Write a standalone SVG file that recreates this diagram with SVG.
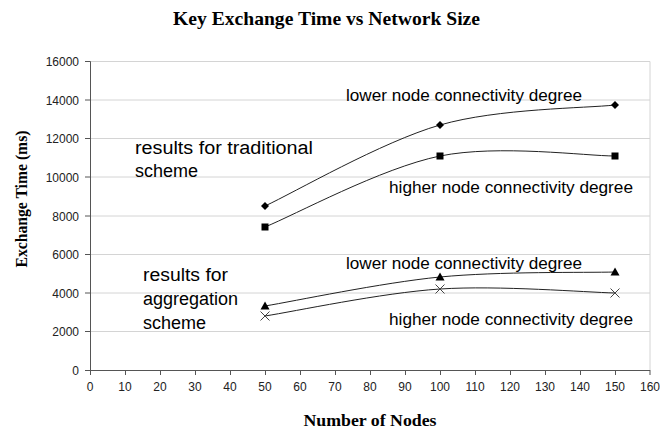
<svg xmlns="http://www.w3.org/2000/svg" width="660" height="430" viewBox="0 0 660 430">
<style>
.title{font-family:"Liberation Serif",serif;font-weight:bold;font-size:19px;fill:#000}
.axt{font-family:"Liberation Serif",serif;font-weight:bold;font-size:16px;fill:#000}
.tick{font-family:"Liberation Sans",Arial,sans-serif;font-size:12px;fill:#222}
.ann{font-family:"Liberation Sans",Arial,sans-serif;font-size:16px;fill:#000}
.big{font-family:"Liberation Sans",Arial,sans-serif;font-size:18px;fill:#000}
.grid{stroke:#d4d4d4;stroke-width:1}
.axis{stroke:#555;stroke-width:1;fill:none}
.curve{stroke:#222;stroke-width:1;fill:none}
</style>
<defs>
<polygon id="dia" points="0,-4 4,0 0,4 -4,0" fill="#000"/>
<rect id="sq" x="-3.5" y="-3.5" width="7" height="7" fill="#000"/>
<polygon id="tri" points="0,-4.5 4.5,3.5 -4.5,3.5" fill="#000"/>
<g id="cross" stroke="#444" stroke-width="1"><line x1="-4.5" y1="-4.5" x2="4.5" y2="4.5"/><line x1="-4.5" y1="4.5" x2="4.5" y2="-4.5"/></g>
</defs>
<rect width="660" height="430" fill="#fff"/>
<text class="title" x="326.5" y="25" text-anchor="middle" textLength="307" lengthAdjust="spacingAndGlyphs">Key Exchange Time vs Network Size</text>
<g id="grid">
<line class="grid" x1="90" y1="61.5" x2="650" y2="61.5"/>
<line class="grid" x1="90" y1="100" x2="650" y2="100"/>
<line class="grid" x1="90" y1="138.5" x2="650" y2="138.5"/>
<line class="grid" x1="90" y1="177" x2="650" y2="177"/>
<line class="grid" x1="90" y1="216" x2="650" y2="216"/>
<line class="grid" x1="90" y1="254.5" x2="650" y2="254.5"/>
<line class="grid" x1="90" y1="293" x2="650" y2="293"/>
<line class="grid" x1="90" y1="331.5" x2="650" y2="331.5"/>
<line class="grid" x1="650" y1="61.5" x2="650" y2="370"/>
</g>
<g id="axes">
<path class="axis" d="M90.5,61.5 V370.5 H650"/>
<path class="axis" d="M85,61.5H90.5M85,100H90.5M85,138.5H90.5M85,177H90.5M85,216H90.5M85,254.5H90.5M85,293H90.5M85,331.5H90.5M85,370.5H90.5"/>
<path class="axis" d="M90.5,370v5M125.5,370v5M160.5,370v5M195.5,370v5M230.5,370v5M265.5,370v5M300.5,370v5M335.5,370v5M370.5,370v5M405.5,370v5M440.5,370v5M475.5,370v5M510.5,370v5M545.5,370v5M580.5,370v5M615.5,370v5M650,370v5"/>
<g class="tick" text-anchor="end">
<text x="79" y="66">16000</text>
<text x="79" y="104.5">14000</text>
<text x="79" y="143">12000</text>
<text x="79" y="181.5">10000</text>
<text x="79" y="220.5">8000</text>
<text x="79" y="259">6000</text>
<text x="79" y="297.5">4000</text>
<text x="79" y="336">2000</text>
<text x="79" y="374.5">0</text>
</g>
<g class="tick" text-anchor="middle">
<text x="90" y="391">0</text>
<text x="125" y="391">10</text>
<text x="160" y="391">20</text>
<text x="195" y="391">30</text>
<text x="230" y="391">40</text>
<text x="265" y="391">50</text>
<text x="300" y="391">60</text>
<text x="335" y="391">70</text>
<text x="370" y="391">80</text>
<text x="405" y="391">90</text>
<text x="440" y="391">100</text>
<text x="475" y="391">110</text>
<text x="510" y="391">120</text>
<text x="545" y="391">130</text>
<text x="580" y="391">140</text>
<text x="615" y="391">150</text>
<text x="650" y="391">160</text>
</g>
<text class="axt" x="370" y="426" text-anchor="middle" textLength="133" lengthAdjust="spacingAndGlyphs">Number of Nodes</text>
<text class="axt" transform="translate(27,199) rotate(-90)" text-anchor="middle" textLength="137" lengthAdjust="spacingAndGlyphs">Exchange Time (ms)</text>
<line x1="18" y1="219" x2="22" y2="219" stroke="#444" stroke-width="1"/>
</g>
<g id="connectors">
<path class="curve" d="M265,206 C294.2,192.5 381.7,141.8 440,125 C498.3,108.2 585.8,108.3 615,105"/>
<path class="curve" d="M265,227 C294.2,215.2 381.7,167.8 440,156 C498.3,144.2 585.8,156 615,156"/>
<path class="curve" d="M265,306 C294.2,301.2 381.7,282.7 440,277 C498.3,271.3 585.8,272.8 615,272"/>
<path class="curve" d="M265,316 C294.2,311.5 381.7,292.8 440,289 C498.3,285.2 585.8,292.3 615,293"/>
</g>
<g id="series-trad-lower"><use href="#dia" x="265" y="206"/><use href="#dia" x="440" y="125"/><use href="#dia" x="615" y="105"/></g>
<g id="series-trad-higher"><use href="#sq" x="265" y="227"/><use href="#sq" x="440" y="156"/><use href="#sq" x="615" y="156"/></g>
<g id="series-agg-lower"><use href="#tri" x="265" y="306"/><use href="#tri" x="440" y="277"/><use href="#tri" x="615" y="272"/></g>
<g id="series-agg-higher"><use href="#cross" x="265" y="316"/><use href="#cross" x="440" y="289"/><use href="#cross" x="615" y="293"/></g>
<g id="labels">
<text class="ann" x="346" y="101" textLength="236" lengthAdjust="spacingAndGlyphs">lower node connectivity degree</text>
<text class="ann" x="389" y="193" textLength="244" lengthAdjust="spacingAndGlyphs">higher node connectivity degree</text>
<text class="big" x="135" y="154" textLength="178" lengthAdjust="spacingAndGlyphs">results for traditional</text>
<text class="big" x="135" y="177">scheme</text>
<text class="ann" x="346" y="269" textLength="236" lengthAdjust="spacingAndGlyphs">lower node connectivity degree</text>
<text class="ann" x="389" y="325" textLength="244" lengthAdjust="spacingAndGlyphs">higher node connectivity degree</text>
<text class="big" x="143" y="281" textLength="85" lengthAdjust="spacingAndGlyphs">results for</text>
<text class="big" x="143" y="305">aggregation</text>
<text class="big" x="143" y="329">scheme</text>
</g>
</svg>
